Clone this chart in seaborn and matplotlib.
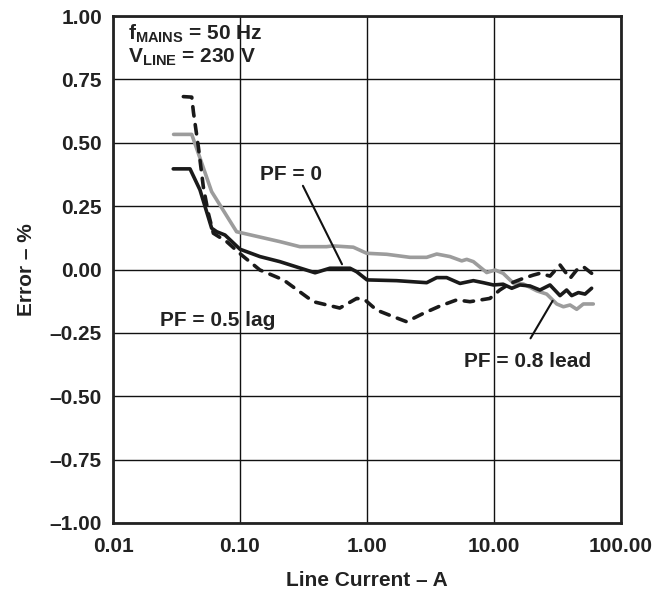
import numpy as np
import pandas as pd
import seaborn as sns
import matplotlib.pyplot as plt

# PF = 0.5 lag (grey)
lag_current = [0.030, 0.0417, 0.0598, 0.094, 0.206, 0.296, 0.48, 0.54, 0.78, 0.994, 1.43, 2.18,
               2.95, 3.54, 4.5, 5.57, 6.1, 6.88, 8.76, 10.2, 11.8, 14.2, 17.0, 21.7, 26.0,
               31.2, 35.2, 39.7, 44.8, 50.5, 60.5]
lag_error = [0.533, 0.533, 0.307, 0.149, 0.110, 0.090, 0.090, 0.093, 0.088, 0.064, 0.060, 0.048,
             0.048, 0.061, 0.051, 0.034, 0.040, 0.031, -0.012, -0.002, -0.015, -0.054, -0.057,
             -0.084, -0.097, -0.136, -0.147, -0.140, -0.157, -0.136, -0.136]

# PF = 0 (black solid)
pf0_current = [0.0298, 0.0404, 0.0484, 0.0598, 0.0656, 0.0762, 0.10, 0.1435, 0.206, 0.39, 0.51,
               0.735, 0.83, 1.0, 1.71, 2.95, 3.54, 4.24, 5.40, 6.88, 8.24, 9.9, 11.8, 13.8, 16.0,
               19.2, 23.0, 27.6, 33.1, 37.3, 40.9, 46.2, 52.1, 58.7]
pf0_error = [0.397, 0.397, 0.314, 0.163, 0.149, 0.136, 0.080, 0.051, 0.031, -0.013, 0.005,
             0.005, -0.009, -0.041, -0.044, -0.052, -0.032, -0.032, -0.055, -0.044, -0.052,
             -0.061, -0.058, -0.074, -0.061, -0.065, -0.081, -0.061, -0.103, -0.081, -0.103,
             -0.091, -0.097, -0.074]

# PF = 0.8 lead (black dashed)
lead_current = [0.0358, 0.0417, 0.043, 0.047, 0.0514, 0.0563, 0.0617, 0.0785, 0.103, 0.1435,
                0.22, 0.378, 0.61, 0.83, 0.964, 1.19, 1.61, 2.05, 2.78, 3.76, 5.08, 6.47, 9.3,
                11.1, 13.4, 17.0, 20.4, 23.0, 27.6, 33.1, 39.7, 44.8, 50.5, 58.7]
lead_error = [0.682, 0.680, 0.620, 0.484, 0.327, 0.222, 0.143, 0.110, 0.057, -0.002,
              -0.041, -0.127, -0.152, -0.114, -0.120, -0.160, -0.186, -0.206, -0.173, -0.144,
              -0.120, -0.127, -0.114, -0.081, -0.055, -0.035, -0.022, -0.015, -0.026, 0.018,
              -0.035, -0.002, 0.011, -0.015]

x_ticks = [0.01, 0.1, 1, 10, 100]
x_tick_labels = ['0.01', '0.10', '1.00', '10.00', '100.00']
y_ticks = [1.0, 0.75, 0.5, 0.25, 0.0, -0.25, -0.5, -0.75, -1.0]
y_tick_labels = ['1.00', '0.75', '0.50', '0.25', '0.00', '–0.25', '–0.50', '–0.75', '–1.00']

sns.set_style('white')
plt.rcParams['font.family'] = ['Liberation Sans', 'DejaVu Sans']
plt.rcParams['font.weight'] = 'bold'
plt.rcParams['mathtext.fontset'] = 'custom'
plt.rcParams['mathtext.rm'] = 'Liberation Sans:bold'
plt.rcParams['mathtext.bf'] = 'Liberation Sans:bold'
plt.rcParams['mathtext.it'] = 'Liberation Sans:bold'

FS = 15
TXT = '#222222'

fig = plt.figure(figsize=(6.52, 5.89), dpi=100)
ax = fig.add_axes([113 / 652, 66 / 589, 508 / 652, 507 / 589])

lag = pd.DataFrame({'current': lag_current, 'error': lag_error})
pf0 = pd.DataFrame({'current': pf0_current, 'error': pf0_error})
lead = pd.DataFrame({'current': lead_current, 'error': lead_error})

sns.lineplot(data=lag, x='current', y='error', ax=ax, color='#9c9c9c', lw=2.6,
             sort=False, estimator=None)
sns.lineplot(data=lead, x='current', y='error', ax=ax, color='#1a1a1a', lw=2.6,
             sort=False, estimator=None)
ax.lines[-1].set_dashes((2.6, 2.4))
ax.lines[-1].set_dash_capstyle('round')
sns.lineplot(data=pf0, x='current', y='error', ax=ax, color='#1a1a1a', lw=2.6,
             sort=False, estimator=None)

ax.set_xscale('log')
ax.set_xlim(0.01, 100)
ax.set_ylim(-1, 1)
ax.set_xticks(x_ticks)
ax.set_xticklabels(x_tick_labels, fontsize=FS, fontweight='bold')
ax.set_yticks(y_ticks)
ax.set_yticklabels(y_tick_labels, fontsize=FS, fontweight='bold')
ax.minorticks_off()
ax.tick_params(length=0, colors=TXT)
ax.tick_params(axis='y', pad=8)
ax.tick_params(axis='x', pad=10)
ax.grid(True, color='#111111', lw=1.0)
for s in ax.spines.values():
    s.set_color(TXT)
    s.set_linewidth(2.0)

ax.set_xlabel('Line Current – A', fontsize=FS, fontweight='bold', labelpad=11, color=TXT)
ax.set_ylabel('Error – %', fontsize=FS, fontweight='bold', labelpad=10, color=TXT)

ax.text(0.03, 0.953, r'$\mathrm{f_{MAINS}}$ = 50 Hz', transform=ax.transAxes,
        fontsize=FS, fontweight='bold', va='baseline', color=TXT)
ax.text(0.03, 0.907, r'$\mathrm{V_{LINE}}$ = 230 V', transform=ax.transAxes,
        fontsize=FS, fontweight='bold', va='baseline', color=TXT)

ax.text(0.25, 0.373, 'PF = 0', fontsize=FS, fontweight='bold', ha='center', va='center',
        color=TXT)
ax.annotate('', xy=(0.65, 0.011), xytext=(0.306, 0.340),
            arrowprops=dict(arrowstyle='-', lw=1.5, color='#111111'))
ax.text(0.0667, -0.20, 'PF = 0.5 lag', fontsize=FS, fontweight='bold', ha='center',
        va='center', color=TXT)
ax.text(18.4, -0.364, 'PF = 0.8 lead', fontsize=FS, fontweight='bold', ha='center',
        va='center', color=TXT)
ax.annotate('', xy=(29.7, -0.114), xytext=(18.9, -0.281),
            arrowprops=dict(arrowstyle='-', lw=1.5, color='#111111'))

fig.savefig('out.png', dpi=100)
